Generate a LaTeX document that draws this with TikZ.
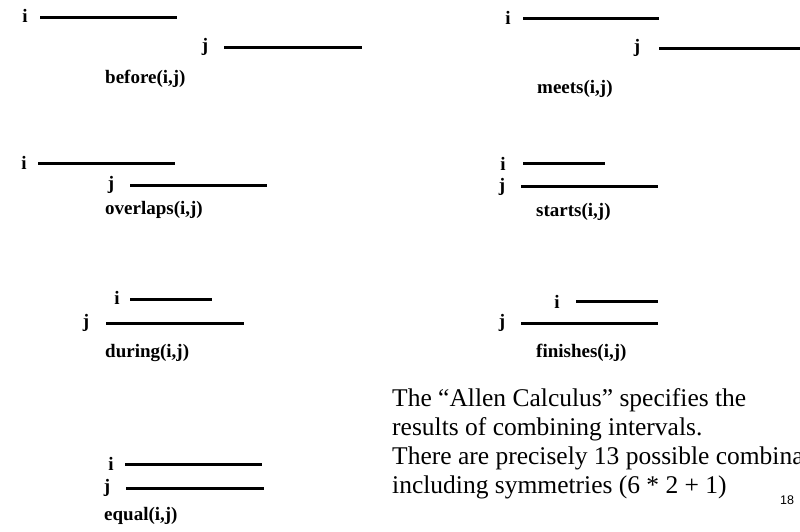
\documentclass[tikz,border=0pt]{standalone}
\usepackage{fontspec}
\setmainfont{Liberation Serif}
\newfontfamily\slidenumfont{Liberation Sans}

\tikzset{
  letter/.style={font=\fontsize{19}{22}\selectfont\bfseries, inner sep=0pt},
  relname/.style={font=\fontsize{19}{22}\selectfont\bfseries, inner sep=0pt, anchor=west},
  interval/.style={line width=3pt},
}

\begin{document}
\begin{tikzpicture}[x=1pt,y=-1pt]
\useasboundingbox (0,0) rectangle (800,531);

% before
\node[letter] (bi) at (25,16) {i};
\draw[interval] (40,17) coordinate (bi1) -- (177,17) coordinate (bi2);
\node[letter] (bj) at (205,47) {j};
\draw[interval] (224,47) coordinate (bj1) -- (362,47) coordinate (bj2);
\node[relname] (before) at (105,79) {before(i,j)};

% meets
\node[letter] (mi) at (508,18) {i};
\draw[interval] (523,18) coordinate (mi1) -- (659,18) coordinate (mi2);
\node[letter] (mj) at (637,48) {j};
\draw[interval] (mi2 |- 0,48) coordinate (mj1) -- (812,48) coordinate (mj2);
\node[relname] (meets) at (537,89) {meets(i,j)};

% overlaps
\node[letter] (oi) at (24,163) {i};
\draw[interval] (38,163) coordinate (oi1) -- (175,163) coordinate (oi2);
\node[letter] (oj) at (111,185) {j};
\draw[interval] (130,185) coordinate (oj1) -- (267,185) coordinate (oj2);
\node[relname] (overlaps) at (105,210) {overlaps(i,j)};

% starts
\node[letter] (si) at (503,164) {i};
\draw[interval] (523,163) coordinate (si1) -- (605,163) coordinate (si2);
\node[letter] (sj) at (502,187) {j};
\draw[interval] (521,186) coordinate (sj1) -- (658,186) coordinate (sj2);
\node[relname] (starts) at (536,212) {starts(i,j)};

% during
\node[letter] (di) at (117,298) {i};
\draw[interval] (130,299) coordinate (di1) -- (212,299) coordinate (di2);
\node[letter] (dj) at (86,323) {j};
\draw[interval] (106,323) coordinate (dj1) -- (244,323) coordinate (dj2);
\node[relname] (during) at (105,353) {during(i,j)};

% finishes
\node[letter] (fi) at (557,302) {i};
\draw[interval] (576,301) coordinate (fi1) -- (658,301) coordinate (fi2);
\node[letter] (fj) at (502,323) {j};
\draw[interval] (521,323) coordinate (fj1) -- (658,323) coordinate (fj2);
\node[relname] (finishes) at (536,353) {finishes(i,j)};

% equal
\node[letter] (ei) at (111,464) {i};
\draw[interval] (125,464) coordinate (ei1) -- (262,464) coordinate (ei2);
\node[letter] (ej) at (107,488) {j};
\draw[interval] (126,488) coordinate (ej1) -- (264,488) coordinate (ej2);
\node[relname] (equal) at (104,516) {equal(i,j)};

% text
\node[anchor=base west, inner sep=0pt, align=left,
      font=\fontsize{25.5}{29}\selectfont] (allen) at (392,493)
  {The ``Allen Calculus'' specifies the\\
   results of combining intervals.\\
   There are precisely 13 possible combinations\\
   including symmetries (6 * 2 + 1)};
\node[font=\slidenumfont\fontsize{12.5}{14}\selectfont, inner sep=0pt] (pagenum) at (787,500) {18};
\end{tikzpicture}
\end{document}
